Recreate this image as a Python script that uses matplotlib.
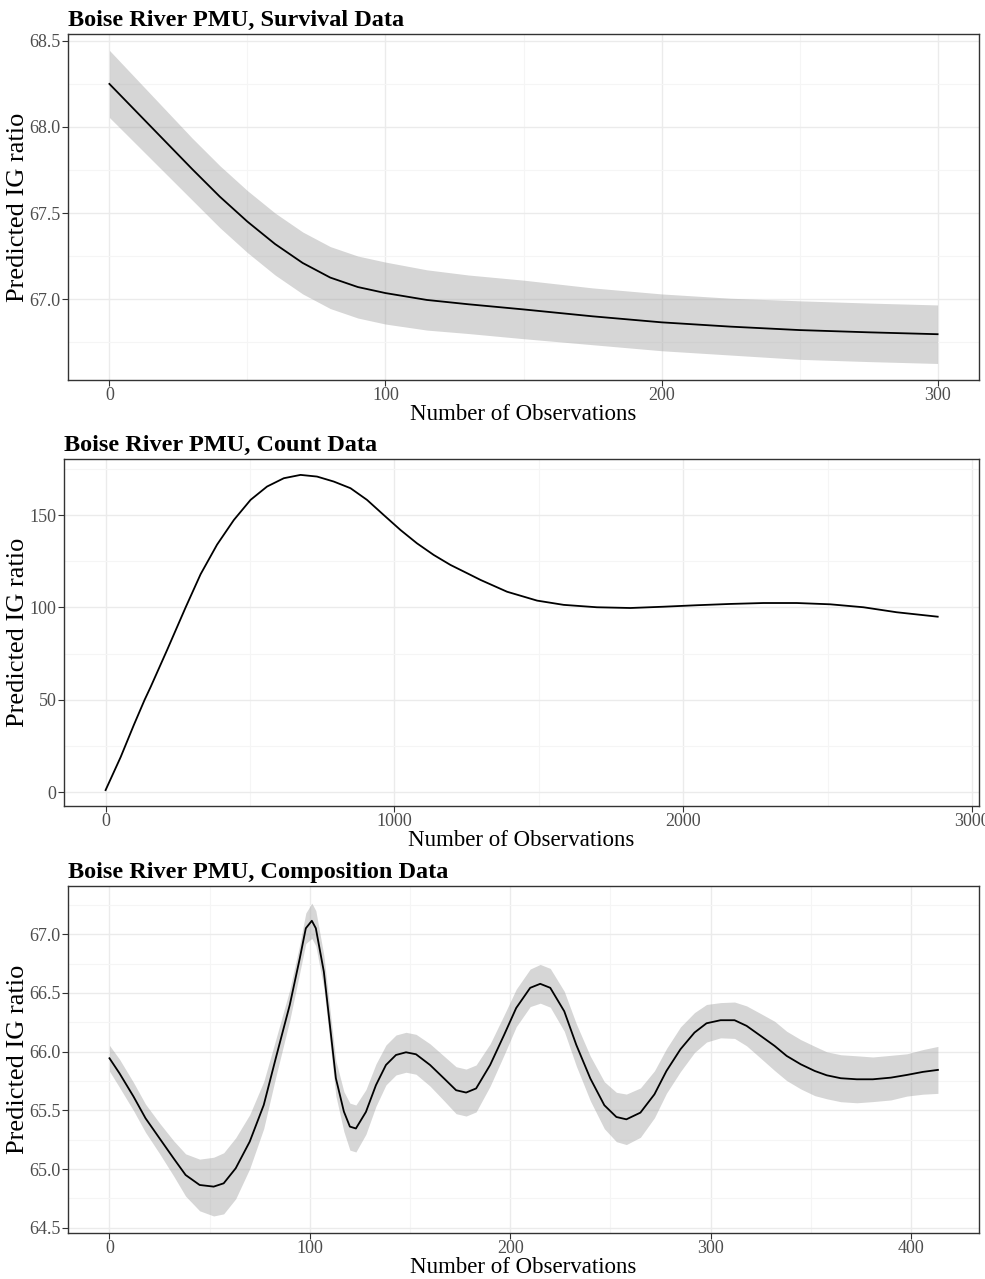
import matplotlib
matplotlib.use('Agg')
import matplotlib.pyplot as plt
import numpy as np
from matplotlib.ticker import MultipleLocator

plt.rcParams['font.family'] = ['Liberation Serif', 'DejaVu Serif']

# ---- Survival data ----
SURV_X = [0, 10, 20, 30, 40, 50, 60, 70, 80, 90, 100, 115, 130, 150, 175, 200,
          225, 250, 275, 300]
SURV_FIT = [68.25, 68.085, 67.92, 67.755, 67.595, 67.45, 67.32, 67.21, 67.125,
            67.07, 67.035, 66.995, 66.97, 66.94, 66.90, 66.865, 66.84, 66.82,
            66.807, 66.796]
SURV_HW = [0.195, 0.19, 0.185, 0.18, 0.18, 0.18, 0.18, 0.18, 0.18, 0.18, 0.18,
           0.175, 0.17, 0.17, 0.165, 0.165, 0.165, 0.17, 0.17, 0.17]

# ---- Count data ----
COUNT_X = [0, 52, 98, 135, 156, 213, 277, 329, 386, 444, 502, 559, 617, 675, 732,
           790, 848, 905, 963, 1021, 1078, 1136, 1194, 1252, 1298, 1390, 1494,
           1586, 1701, 1817, 1932, 2047, 2163, 2278, 2393, 2509, 2624, 2739, 2881]
COUNT_FIT = [1.2, 19.0, 36.5, 50.0, 57.0, 77.0, 100.0, 118.0, 134.0, 147.3, 158.2,
             165.4, 169.9, 171.7, 170.8, 168.1, 164.5, 158.2, 150.0, 141.9, 134.7,
             128.4, 123.0, 118.5, 114.9, 108.5, 103.7, 101.4, 100.1, 99.7, 100.4,
             101.2, 101.9, 102.4, 102.4, 101.7, 100.1, 97.4, 95.0]

# ---- Composition data ----
COMP_X = [0, 5, 12, 18, 25, 32, 38, 45, 52, 57, 63, 70, 77, 83, 90, 95, 98, 101,
          103, 107, 110, 113, 117, 120, 123, 128, 133, 138, 143, 148, 153, 160,
          167, 173, 178, 183, 190, 197, 203, 210, 215, 220, 227, 233, 240, 247,
          253, 258, 265, 272, 278, 285, 292, 298, 305, 312, 318, 325, 332, 338,
          345, 352, 358, 365, 373, 381, 390, 398, 406, 413.5]
COMP_FIT = [65.943, 65.815, 65.617, 65.432, 65.261, 65.091, 64.949, 64.864, 64.85,
            64.878, 65.006, 65.233, 65.545, 65.943, 66.398, 66.795, 67.05, 67.114,
            67.05, 66.68, 66.227, 65.773, 65.489, 65.361, 65.345, 65.486, 65.714,
            65.886, 65.971, 65.994, 65.977, 65.886, 65.771, 65.671, 65.651, 65.686,
            65.886, 66.143, 66.371, 66.543, 66.577, 66.543, 66.343, 66.057, 65.771,
            65.543, 65.443, 65.423, 65.48, 65.636, 65.835, 66.02, 66.162, 66.241,
            66.267, 66.267, 66.219, 66.134, 66.048, 65.963, 65.892, 65.835, 65.798,
            65.773, 65.764, 65.764, 65.778, 65.801, 65.827, 65.844]
COMP_HW = [0.11, 0.12, 0.12, 0.12, 0.13, 0.15, 0.18, 0.22, 0.25, 0.26, 0.26, 0.23,
           0.20, 0.16, 0.13, 0.12, 0.13, 0.15, 0.15, 0.14, 0.14, 0.15, 0.17, 0.20,
           0.20, 0.19, 0.18, 0.17, 0.17, 0.17, 0.17, 0.18, 0.19, 0.20, 0.20, 0.20,
           0.18, 0.17, 0.16, 0.16, 0.165, 0.165, 0.17, 0.18, 0.19, 0.20, 0.21,
           0.215, 0.21, 0.20, 0.19, 0.19, 0.17, 0.16, 0.15, 0.155, 0.17, 0.19, 0.21,
           0.21, 0.21, 0.21, 0.20, 0.20, 0.20, 0.19, 0.19, 0.18, 0.19, 0.20]

XLAB = 'Number of Observations'
YLAB = 'Predicted IG ratio'


def style(ax, xmaj, ymaj, fmt):
    ax.set_facecolor('white')
    ax.xaxis.set_major_locator(MultipleLocator(xmaj))
    ax.xaxis.set_minor_locator(MultipleLocator(xmaj / 2))
    ax.yaxis.set_major_locator(MultipleLocator(ymaj))
    ax.yaxis.set_minor_locator(MultipleLocator(ymaj / 2))
    ax.grid(which='major', color='#EBEBEB', lw=1.0)
    ax.grid(which='minor', color='#F5F5F5', lw=0.8)
    ax.set_axisbelow(True)
    ax.tick_params(which='major', length=4, width=0.8, color='#333333',
                   labelsize=13, labelcolor='#4D4D4D')
    ax.tick_params(axis='x', pad=1)
    ax.tick_params(axis='y', pad=1.5)
    ax.tick_params(which='minor', length=0)
    for s in ax.spines.values():
        s.set_color('#333333')
        s.set_linewidth(1.0)
    ax.yaxis.set_major_formatter(plt.FuncFormatter(lambda v, p: fmt.format(v)))
    ax.set_xlabel(XLAB, fontsize=16.5, labelpad=0)
    ax.set_ylabel(YLAB, fontsize=19)


def ribbon(ax, x, fit, hw):
    fit = np.array(fit)
    hw = np.array(hw)
    ax.fill_between(x, fit - hw, fit + hw, color='#999999', alpha=0.4, lw=0)


fig = plt.figure(figsize=(9.85, 12.79), dpi=100)

# panel 1
ax1 = fig.add_axes([68 / 985, 1 - 380 / 1279, 911 / 985, 346 / 1279])
ribbon(ax1, SURV_X, SURV_FIT, SURV_HW)
ax1.plot(SURV_X, SURV_FIT, color='black', lw=1.3)
ax1.set_xlim(-15, 315)
ax1.set_ylim(66.53, 68.54)
style(ax1, 100, 0.5, '{:.1f}')
ax1.set_title('Boise River PMU, Survival Data', loc='left', fontsize=17.5,
              fontweight='bold', pad=6)

# panel 2
ax2 = fig.add_axes([64 / 985, 1 - 806 / 1279, 915 / 985, 347 / 1279])
ax2.plot(COUNT_X, COUNT_FIT, color='black', lw=1.3)
ax2.set_xlim(-144, 3024)
ax2.set_ylim(-7.4, 180.3)
style(ax2, 1000, 50, '{:.0f}')
ax2.set_title('Boise River PMU, Count Data', loc='left', fontsize=17.5,
              fontweight='bold', pad=6)

# panel 3
ax3 = fig.add_axes([68 / 985, 1 - 1233 / 1279, 911 / 985, 347 / 1279])
ribbon(ax3, COMP_X, COMP_FIT, COMP_HW)
ax3.plot(COMP_X, COMP_FIT, color='black', lw=1.3)
ax3.set_xlim(-20.7, 434)
ax3.set_ylim(64.455, 67.41)
style(ax3, 100, 0.5, '{:.1f}')
ax3.set_title('Boise River PMU, Composition Data', loc='left', fontsize=17.5,
              fontweight='bold', pad=6)

# y labels all sit at the same x, as in the reference
for a in (ax1, ax2, ax3):
    pos = a.get_position()
    a.yaxis.set_label_coords((29 / 985 - pos.x0) / pos.width, 0.5)

plt.savefig('out.png', dpi=100)
plt.close()
